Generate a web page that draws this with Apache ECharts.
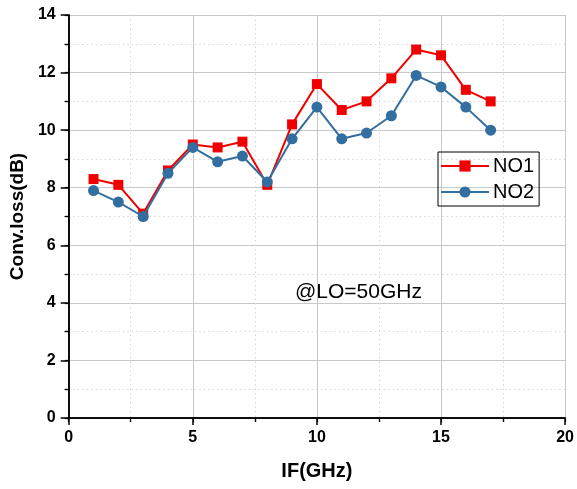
<!DOCTYPE html>
<html>
<head>
<meta charset="utf-8">
<script src="https://cdn.jsdelivr.net/npm/echarts@6/dist/echarts.min.js"></script>
<style>html,body{margin:0;padding:0;background:#fff;}#c{width:577px;height:489px;}</style>
</head>
<body>
<div id="c"></div>
<script>
var ifGHz = [1,2,3,4,5,6,7,8,9,10,11,12,13,14,15,16,17];
var no1 = [8.3,8.1,7.1,8.6,9.5,9.4,9.6,8.1,10.2,11.6,10.7,11.0,11.8,12.8,12.6,11.4,11.0];
var no2 = [7.9,7.5,7.0,8.5,9.4,8.9,9.1,8.2,9.7,10.8,9.7,9.9,10.5,11.9,11.5,10.8,10.0];
var seriesNames = ['NO1','NO2'];
var xTitle = 'IF(GHz)';
var yTitle = 'Conv.loss(dB)';
var note = '@LO=50GHz';

var FONT = '"Liberation Sans", Arial, sans-serif';
function pairs(xs, ys){ return xs.map(function(x,i){ return [x, ys[i]]; }); }

var chart = echarts.init(document.getElementById('c'));
var majorGrid = {show:true, lineStyle:{color:'#c8c8c8', width:1, type:'solid'}};
var minorGrid = {show:true, lineStyle:{color:'#d8d8d8', width:1, type:[1.5,3]}};
chart.setOption({
  backgroundColor:'#fff',
  animation:false,
  grid:{left:67, top:15, right:10, bottom:71, containLabel:false},
  xAxis:[{
    type:'value', min:0, max:20, interval:5, position:'bottom',
    name:xTitle, nameLocation:'middle', nameGap:43,
    nameTextStyle:{fontFamily:FONT, fontWeight:'bold', fontSize:20, color:'#000'},
    axisLine:{show:true, onZero:false, lineStyle:{color:'#000', width:1.5}},
    axisTick:{show:true, inside:false, length:7, lineStyle:{color:'#000', width:1.5}},
    minorTick:{show:true, splitNumber:2, length:4, lineStyle:{color:'#000', width:1.2}},
    axisLabel:{fontFamily:FONT, fontWeight:'bold', fontSize:16, color:'#000', margin:12},
    splitLine:majorGrid, minorSplitLine:minorGrid
  },{
    type:'value', min:0, max:20, interval:5, position:'top',
    axisLine:{show:true, lineStyle:{color:'#000', width:1.5}},
    axisTick:{show:true, inside:true, length:4, lineStyle:{color:'#000', width:1.2}},
    minorTick:{show:true, splitNumber:2, length:4, lineStyle:{color:'#000', width:1.2}},
    axisLabel:{show:false}, splitLine:{show:false}
  }],
  yAxis:[{
    type:'value', min:0, max:14, interval:2, position:'left',
    name:yTitle, nameLocation:'middle', nameGap:40, nameRotate:90,
    nameTextStyle:{fontFamily:FONT, fontWeight:'bold', fontSize:19, color:'#000'},
    axisLine:{show:true, onZero:false, lineStyle:{color:'#000', width:1.5}},
    axisTick:{show:true, inside:false, length:8, lineStyle:{color:'#000', width:1.5}},
    minorTick:{show:true, splitNumber:2, length:4, lineStyle:{color:'#000', width:1.2}},
    axisLabel:{fontFamily:FONT, fontWeight:'bold', fontSize:16, color:'#000', margin:13},
    splitLine:majorGrid, minorSplitLine:minorGrid
  },{
    type:'value', min:0, max:14, interval:2, position:'right',
    axisLine:{show:true, lineStyle:{color:'#000', width:1.5}},
    axisTick:{show:true, inside:true, length:4, lineStyle:{color:'#000', width:1.2}},
    minorTick:{show:true, splitNumber:2, length:4, lineStyle:{color:'#000', width:1.2}},
    axisLabel:{show:false}, splitLine:{show:false}
  }],
  legend:{
    show:true, orient:'vertical', left:438, top:152,
    borderColor:'#000', borderWidth:1, borderRadius:0,
    padding:[4,5,4,2], itemGap:6, itemWidth:48, itemHeight:14,
    textStyle:{fontFamily:FONT, fontSize:20, color:'#000', padding:[0,0,0,-1]},
    data:seriesNames
  },
  graphic:[{
    type:'text', left:295, top:282,
    style:{text:note, fontFamily:FONT, fontSize:21, fill:'#000'}
  }],
  series:[{
    name:seriesNames[0], type:'line', xAxisIndex:0, yAxisIndex:0,
    data:pairs(ifGHz, no1), symbol:'rect', symbolSize:10,
    itemStyle:{color:'#f00000'}, lineStyle:{color:'#f00000', width:2}, z:3
  },{
    name:seriesNames[1], type:'line', xAxisIndex:0, yAxisIndex:0,
    data:pairs(ifGHz, no2), symbol:'circle', symbolSize:11,
    itemStyle:{color:'#336ea0'}, lineStyle:{color:'#336ea0', width:2}, z:4
  }]
});
</script>
</body>
</html>
